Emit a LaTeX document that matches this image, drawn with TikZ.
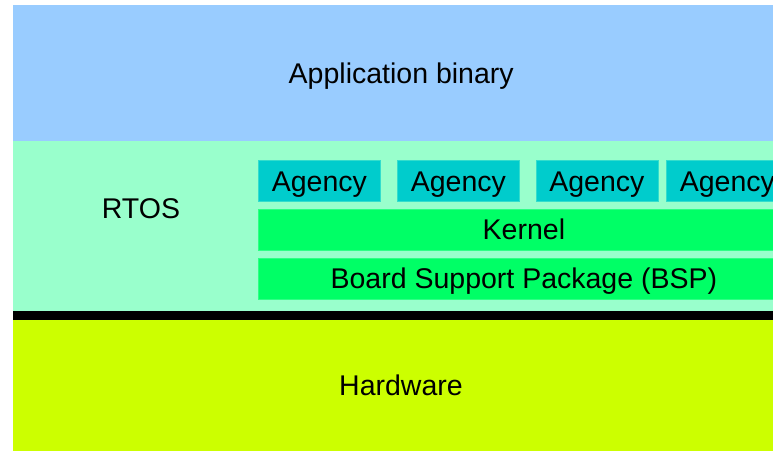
\documentclass[tikz,border=0pt]{standalone}
\usepackage{fontspec}
\setmainfont{Liberation Sans}
\definecolor{appblue}{HTML}{99CCFF}
\definecolor{rtosgreen}{HTML}{99FFCC}
\definecolor{agencycol}{HTML}{00CCCC}
\definecolor{agencyedge}{HTML}{33DDCC}
\definecolor{kernelcol}{HTML}{00FF66}
\definecolor{hwcol}{HTML}{CCFF00}
\begin{document}
\begin{tikzpicture}[x=1pt,y=-1pt,
  lbl/.style={inner sep=0pt, text height=20.4pt, text depth=0pt,
    font=\fontsize{28.5}{34}\selectfont},
  layer/.style={lbl, anchor=north west},
  agencybox/.style={layer, fill=agencycol, draw=agencyedge, line width=0.8pt,
    minimum width=122pt, minimum height=41pt},
  barbox/.style={layer, fill=kernelcol, draw=kernelcol!70!rtosgreen, line width=0.8pt,
    minimum width=531pt, minimum height=40.5pt}]
\useasboundingbox (0,0) rectangle (773,451);
\clip (0,0) rectangle (773,451);
\node[layer, fill=appblue, minimum width=776pt, minimum height=136pt] (app) at (13,5) {};
\node[lbl] (apptext) at (app.center) {Application binary};
\node[layer, fill=rtosgreen, minimum width=776pt, minimum height=170pt] (rtos) at (13,141) {};
\node[lbl] (rtostext) at (141,208) {RTOS};
\node[layer, fill=black, minimum width=776pt, minimum height=9pt] (bar) at (13,311) {};
\node[layer, fill=hwcol, minimum width=776pt, minimum height=131pt] (hw) at (13,320) {};
\node[lbl] (hwtext) at (401,385) {Hardware};
\node[agencybox] (ag1) at (258,160) {};
\node[agencybox] (ag2) at (397,160) {};
\node[agencybox] (ag3) at (535.5,160) {};
\node[agencybox] (ag4) at (666,160) {};
\foreach \i in {1,2,3,4}{\node[lbl] (agt\i) at (ag\i.center) {Agency};}
\node[barbox] (kernel) at (258,209) {};
\node[lbl] (kerneltext) at (kernel.center) {Kernel};
\node[barbox] (bsp) at (258,258) {};
\node[lbl] (bsptext) at (bsp.center) {Board Support Package (BSP)};
\end{tikzpicture}
\end{document}
